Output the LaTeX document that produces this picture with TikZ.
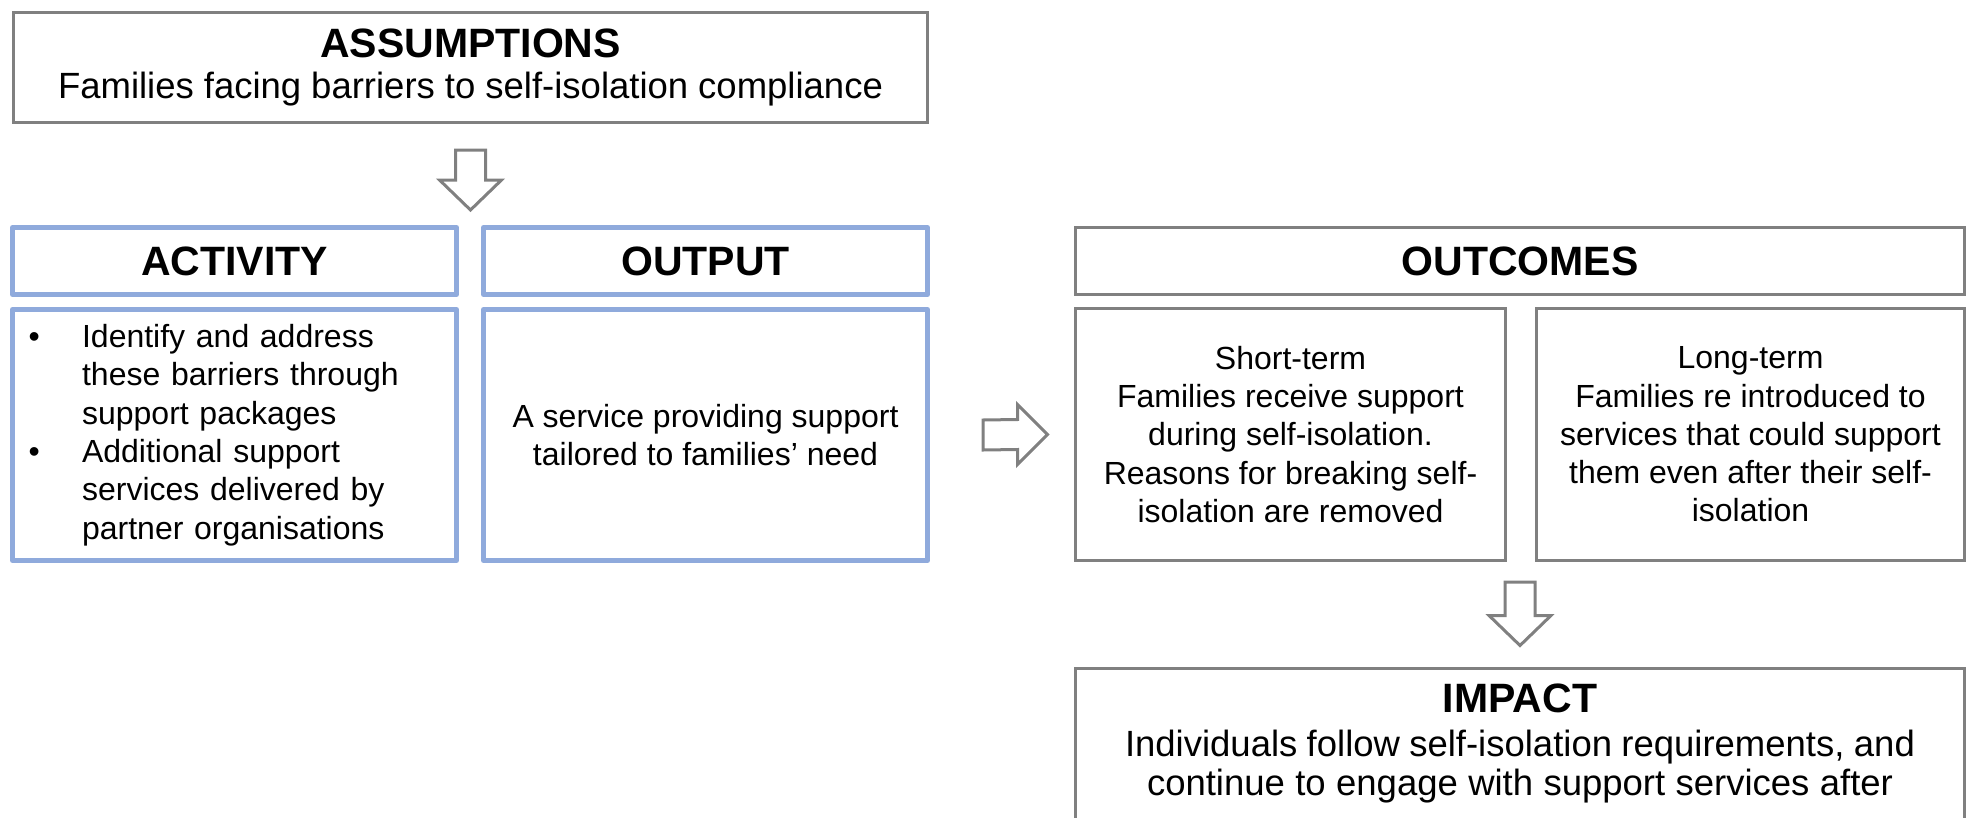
\documentclass[tikz,border=0pt]{standalone}
\usepackage{fontspec}
\setmainfont{Liberation Sans}
\usetikzlibrary{calc}
\definecolor{framegray}{HTML}{808080}
\definecolor{frameblue}{HTML}{8FAADC}
\newcommand\bodysize{\fontsize{32}{38.3}\selectfont}
\newcommand\leadsize{\fontsize{36.5}{41}\selectfont}
\newcommand\headsize{\fontsize{41}{41}\selectfont\bfseries}
\newcommand\bulletitem{\makebox[53.6pt][l]{\textbullet}}
\newcommand\bulletcont{\hspace*{53.6pt}}

\begin{document}
\begin{tikzpicture}[x=1pt,y=-1pt,
  graybox/.style={draw=framegray, line width=3pt, fill=white, inner sep=0pt,
                  font=\bodysize, align=center},
  bluebox/.style={draw=frameblue, line width=5pt, line join=round, fill=white,
                  inner sep=0pt, font=\bodysize, align=center},
  blockarrow/.style={draw=framegray, line width=3pt, fill=white, line join=miter}]
\useasboundingbox (0,0) rectangle (1968,817);
\clip (0,0) rectangle (1968,817);

% Assumptions
\node[graybox, font=\leadsize, minimum width=914pt, minimum height=110pt] (assump) at (470.5,67.5)
  {{\headsize ASSUMPTIONS}\\
   \makebox[825pt][s]{Families facing barriers to self-isolation compliance}};

% Activity and output column headers
\node[bluebox, font=\headsize, minimum width=444pt, minimum height=67pt] (acthead) at (234.5,261) {ACTIVITY};
\node[bluebox, font=\headsize, minimum width=444pt, minimum height=67pt] (outhead) at (705.5,261) {OUTPUT};

% Activity and output bodies
\node[bluebox, minimum width=444pt, minimum height=251pt, align=left,
      text width=412pt, inner xsep=16pt] (actbody) at (234.5,435)
  {\bulletitem Identify and address\\
   \bulletcont these barriers through\\
   \bulletcont support packages\\
   \bulletitem Additional support\\
   \bulletcont services delivered by\\
   \bulletcont partner organisations};
\node[bluebox, minimum width=444pt, minimum height=251pt] (outbody) at (705.5,435)
  {A service providing support\\tailored to families’ need};

% Outcomes
\node[graybox, font=\headsize, minimum width=889pt, minimum height=67pt] (outcomes) at (1520,261) {OUTCOMES};
\node[graybox, minimum width=430pt, minimum height=252pt] (short) at (1290.5,434.5)
  {Short-term\\Families receive support\\during self-isolation.\\Reasons for breaking self-\\isolation are removed};
\node[graybox, minimum width=428pt, minimum height=252pt] (long) at (1750.5,434.5)
  {Long-term\\Families re introduced to\\services that could support\\them even after their self-\\isolation};

% Impact (runs past the lower edge)
\node[graybox, font=\fontsize{36.5}{39}\selectfont, anchor=north, minimum width=889pt,
      inner ysep=16pt, text depth=150pt] (impact) at (1520,666.5)
  {{\headsize IMPACT}\\[5pt]
   \makebox[790pt][s]{Individuals follow self-isolation requirements, and}\\
   \makebox[746pt][s]{continue to engage with support services after}};

% Block arrows between the stages
\coordinate (a1s) at ($(assump.south)+(0,26)$);
\coordinate (a1t) at ($(acthead.north -| assump.south)+(0,-15)$);
\draw[blockarrow] ($(a1s)+(-15,0)$) -- ($(a1s)+(15,0)$) -- ($(a1t)+(15,-30)$)
  -- ($(a1t)+(31,-30)$) -- (a1t) -- ($(a1t)+(-31,-30)$) -- ($(a1t)+(-15,-30)$) -- cycle;

\coordinate (a2s) at ($(outbody.east)+(53,0)$);
\coordinate (a2t) at ($(short.west)+(-26.5,0)$);
\draw[blockarrow] ($(a2s)+(0,-15)$) -- ($(a2t)+(-30,-15)$) -- ($(a2t)+(-30,-30)$)
  -- (a2t) -- ($(a2t)+(-30,30)$) -- ($(a2t)+(-30,15)$) -- ($(a2s)+(0,15)$) -- cycle;

\coordinate (a3s) at ($(impact.north |- short.south)+(0,20)$);
\coordinate (a3t) at ($(impact.north)+(0,-21)$);
\draw[blockarrow] ($(a3s)+(-15,0)$) -- ($(a3s)+(15,0)$) -- ($(a3t)+(15,-30)$)
  -- ($(a3t)+(31,-30)$) -- (a3t) -- ($(a3t)+(-31,-30)$) -- ($(a3t)+(-15,-30)$) -- cycle;
\end{tikzpicture}
\end{document}
